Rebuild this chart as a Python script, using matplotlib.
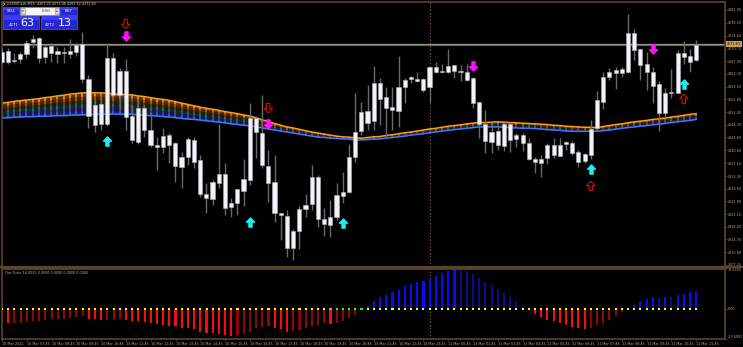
import matplotlib
matplotlib.use("Agg")
import matplotlib.pyplot as plt
import numpy as np
from matplotlib.path import Path
from matplotlib.patches import Rectangle

# ---- data (US500Cash M15, 10-11 Mar 2022) ----
opens = [4266.8, 4270.1, 4267.0, 4267.5, 4269.0, 4272.6, 4273.9, 4268.3, 4271.4, 4270.1,
         4269.3, 4269.0, 4269.8, 4272.0, 4261.7, 4254.1, 4248.6, 4248.5, 4267.8, 4257.1,
         4264.2, 4250.9, 4243.4, 4253.2, 4246.8, 4242.4, 4241.9, 4245.3, 4242.9, 4236.0,
         4239.0, 4243.9, 4238.0, 4228.0, 4226.6, 4231.3, 4233.8, 4224.1, 4225.3, 4229.0,
         4232.1, 4250.3, 4245.8, 4236.2, 4231.6, 4222.4, 4221.6, 4212.3, 4217.3, 4223.5,
         4225.0, 4232.9, 4220.7, 4218.9, 4221.2, 4227.4, 4228.7, 4238.8, 4246.5, 4252.4,
         4249.4, 4260.7, 4256.4, 4253.6, 4252.5, 4259.3, 4261.7, 4261.8, 4261.8, 4259.5,
         4265.2, 4263.7, 4263.8, 4265.9, 4264.2, 4263.9, 4262.0, 4254.9, 4248.6, 4243.4,
         4246.5, 4242.1, 4248.6, 4244.1, 4245.3, 4243.1, 4238.3, 4237.2, 4238.5, 4242.4,
         4239.3, 4242.7, 4243.1, 4240.4, 4237.8, 4239.5, 4247.3, 4255.1, 4262.4, 4263.6,
         4264.6, 4263.9, 4275.2, 4270.5, 4266.2, 4263.9, 4260.3, 4251.7, 4257.6, 4257.7,
         4269.3, 4268.5, 4267.25]
highs = [4270.9, 4270.8, 4269.5, 4269.8, 4273.2, 4274.7, 4274.2, 4271.7, 4272.2, 4271.2,
         4271.2, 4273.5, 4272.4, 4275.6, 4262.9, 4255.6, 4257.4, 4272.2, 4269.3, 4264.9,
         4267.5, 4254.1, 4255.6, 4254.1, 4252.2, 4244.8, 4247.3, 4245.8, 4243.4, 4240.4,
         4244.7, 4244.7, 4239.5, 4231.2, 4232.1, 4248.6, 4237.2, 4226.8, 4229.5, 4238.2,
         4254.6, 4250.9, 4257.1, 4240.9, 4239.5, 4222.5, 4223.3, 4217.7, 4224.5, 4228.0,
         4236.5, 4233.6, 4223.8, 4226.3, 4231.2, 4234.6, 4242.7, 4257.7, 4255.0, 4260.0,
         4265.6, 4262.1, 4259.5, 4259.4, 4268.5, 4262.0, 4262.6, 4263.7, 4262.0, 4265.7,
         4266.8, 4266.2, 4270.6, 4265.9, 4265.9, 4266.2, 4262.4, 4255.1, 4252.7, 4249.1,
         4248.0, 4249.1, 4249.1, 4245.8, 4245.8, 4244.4, 4239.0, 4239.5, 4242.9, 4244.4,
         4244.4, 4243.7, 4243.7, 4240.9, 4240.0, 4249.7, 4258.3, 4263.9, 4264.9, 4265.2,
         4265.4, 4280.8, 4276.3, 4270.5, 4269.8, 4265.4, 4261.2, 4259.0, 4264.7, 4270.3,
         4273.0, 4270.5, 4273.06]
lows = [4266.2, 4266.2, 4266.4, 4266.4, 4267.8, 4270.8, 4266.4, 4266.5, 4266.8, 4266.4,
        4266.5, 4267.8, 4268.5, 4260.5, 4247.4, 4246.3, 4246.8, 4248.0, 4255.6, 4252.7,
        4246.8, 4242.9, 4242.7, 4244.8, 4241.9, 4235.1, 4240.0, 4237.0, 4231.6, 4229.7,
        4236.5, 4235.7, 4227.2, 4222.4, 4224.8, 4229.7, 4221.9, 4221.4, 4221.9, 4224.5,
        4230.7, 4238.5, 4235.7, 4225.8, 4219.9, 4214.5, 4209.6, 4208.7, 4211.8, 4221.2,
        4223.3, 4218.4, 4215.7, 4215.3, 4220.4, 4225.3, 4228.4, 4237.5, 4245.3, 4246.8,
        4246.8, 4248.3, 4244.8, 4246.8, 4247.8, 4254.8, 4260.5, 4261.0, 4258.0, 4255.1,
        4263.6, 4263.6, 4263.6, 4262.0, 4261.3, 4261.3, 4253.2, 4244.5, 4240.1, 4240.0,
        4240.9, 4240.6, 4240.4, 4241.9, 4240.7, 4238.0, 4234.1, 4233.1, 4236.7, 4238.5,
        4239.2, 4240.9, 4239.5, 4236.0, 4237.0, 4238.2, 4246.8, 4252.9, 4261.5, 4258.7,
        4262.4, 4263.6, 4267.3, 4261.5, 4258.5, 4254.8, 4246.5, 4250.2, 4256.1, 4257.6,
        4266.2, 4263.9, 4267.12]
closes = [4269.8, 4266.7, 4267.3, 4269.0, 4272.4, 4273.4, 4268.0, 4271.2, 4269.3, 4269.0,
          4269.8, 4270.1, 4271.7, 4261.8, 4250.9, 4248.3, 4254.4, 4267.8, 4257.1, 4264.2,
          4250.5, 4243.9, 4253.2, 4246.8, 4242.4, 4241.7, 4245.0, 4242.4, 4236.3, 4239.0,
          4244.1, 4237.5, 4228.0, 4226.8, 4231.5, 4233.8, 4224.0, 4225.5, 4229.4, 4232.3,
          4250.3, 4246.3, 4236.5, 4231.3, 4222.5, 4221.9, 4212.3, 4217.2, 4223.5, 4224.8,
          4232.9, 4220.7, 4219.2, 4221.2, 4227.7, 4228.7, 4238.8, 4246.3, 4252.2, 4248.8,
          4260.7, 4255.8, 4253.3, 4252.7, 4259.5, 4261.5, 4262.3, 4261.3, 4258.5, 4265.4,
          4263.7, 4264.1, 4265.6, 4264.2, 4263.9, 4261.5, 4254.6, 4248.6, 4243.7, 4246.3,
          4242.4, 4248.6, 4243.9, 4245.3, 4243.1, 4238.2, 4237.3, 4238.3, 4242.4, 4239.5,
          4242.4, 4243.4, 4240.0, 4237.5, 4239.7, 4247.0, 4255.6, 4262.4, 4263.7, 4264.4,
          4263.6, 4275.3, 4270.3, 4265.9, 4263.7, 4259.8, 4251.7, 4257.7, 4258.0, 4269.3,
          4268.3, 4266.8, 4271.63]

# moving-average ribbon: upper (orange) and lower (blue) edge
ribbon_top = [4254.7, 4254.9, 4255.2, 4255.4, 4255.6, 4255.8, 4256.0, 4256.3, 4256.5, 4256.8,
              4257.0, 4257.3, 4257.5, 4257.7, 4257.7, 4257.7, 4257.7, 4257.6, 4257.4, 4257.3,
              4257.2, 4257.1, 4256.8, 4256.6, 4256.3, 4256.0, 4255.8, 4255.5, 4255.1, 4254.7,
              4254.3, 4253.9, 4253.5, 4253.2, 4252.9, 4252.6, 4252.2, 4251.9, 4251.6, 4251.2,
              4250.9, 4250.4, 4249.8, 4249.3, 4248.7, 4248.2, 4247.7, 4247.4, 4247.0, 4246.6,
              4246.2, 4245.9, 4245.6, 4245.3, 4245.0, 4244.8, 4244.7, 4244.5, 4244.4, 4244.6,
              4244.8, 4244.9, 4245.2, 4245.4, 4245.7, 4246.0, 4246.2, 4246.5, 4246.8, 4247.1,
              4247.3, 4247.6, 4247.9, 4248.1, 4248.3, 4248.6, 4248.8, 4249.0, 4249.0, 4249.1,
              4249.2, 4249.1, 4249.0, 4248.9, 4248.8, 4248.7, 4248.6, 4248.5, 4248.4, 4248.2,
              4248.1, 4247.9, 4247.8, 4247.7, 4247.6, 4247.6, 4247.5, 4247.8, 4248.1, 4248.4,
              4248.6, 4248.9, 4249.2, 4249.4, 4249.6, 4249.9, 4250.1, 4250.3, 4250.6, 4250.8,
              4251.1, 4251.4, 4251.6]
ribbon_bot = [4250.3, 4250.4, 4250.5, 4250.6, 4250.7, 4250.7, 4250.8, 4250.8, 4250.9, 4251.0,
              4251.0, 4251.1, 4251.2, 4251.2, 4251.3, 4251.4, 4251.4, 4251.4, 4251.5, 4251.4,
              4251.4, 4251.4, 4251.2, 4251.1, 4251.0, 4250.9, 4250.7, 4250.6, 4250.4, 4250.2,
              4250.0, 4249.9, 4249.7, 4249.5, 4249.3, 4249.1, 4248.9, 4248.6, 4248.4, 4248.2,
              4248.0, 4247.7, 4247.4, 4247.1, 4246.8, 4246.5, 4246.2, 4245.9, 4245.6, 4245.3,
              4245.0, 4244.7, 4244.6, 4244.4, 4244.3, 4244.2, 4244.1, 4243.9, 4243.9, 4244.0,
              4244.1, 4244.2, 4244.4, 4244.6, 4244.8, 4245.0, 4245.3, 4245.5, 4245.7, 4246.0,
              4246.2, 4246.5, 4246.7, 4246.9, 4247.1, 4247.3, 4247.5, 4247.7, 4247.7, 4247.7,
              4247.7, 4247.6, 4247.5, 4247.4, 4247.3, 4247.3, 4247.2, 4247.1, 4246.9, 4246.8,
              4246.7, 4246.5, 4246.4, 4246.4, 4246.4, 4246.4, 4246.4, 4246.6, 4246.8, 4247.0,
              4247.3, 4247.5, 4247.7, 4247.9, 4248.1, 4248.3, 4248.5, 4248.7, 4249.0, 4249.2,
              4249.4, 4249.6, 4249.9]

# Flat Pulse histogram
pulse = [-11.6, -11.7, -11.5, -11.3, -10.9, -9.8, -9.6, -8.8, -8.4, -8.2,
         -8.0, -7.5, -6.7, -6.1, -7.9, -8.1, -9.3, -8.9, -8.7, -8.3,
         -8.8, -9.6, -10.1, -10.7, -11.5, -12.3, -12.8, -13.6, -14.1, -15.4,
         -15.6, -16.3, -18.1, -19.4, -19.6, -20.0, -20.8, -21.6, -20.8, -20.0,
         -18.1, -15.5, -14.2, -14.0, -15.5, -16.3, -18.1, -17.3, -16.8, -15.5,
         -14.1, -12.8, -11.5, -12.0, -11.5, -10.1, -7.5, -4.8, -0.4, 2.4,
         5.9, 9.3, 11.2, 13.1, 15.2, 17.9, 19.7, 21.1, 21.9, 24.0,
         26.4, 28.5, 30.0, 32.0, 31.8, 30.0, 27.8, 25.0, 21.6, 18.8,
         15.6, 13.1, 9.3, 6.4, 3.2, 0.3, -4.0, -6.7, -8.8, -10.1,
         -11.5, -13.3, -14.7, -15.5, -16.0, -15.5, -13.3, -11.5, -8.8, -6.1,
         -2.9, 0.3, 3.2, 5.9, 7.7, 9.3, 9.1, 9.3, 9.2, 10.7,
         12.0, 13.1, 14.4]
flat_bars = [53, 54, 55, 56, 57, 58]
pulse_min, pulse_max = -23.6907, 32.6392

# signal arrows: (bar, price)
buy_arrows = [(17, 4243.6), (40, 4219.8), (55, 4219.5), (95, 4235.4), (110, 4260.4)]
sell_arrows = [(20, 4274.4), (43, 4248.6), (76, 4265.7), (105, 4270.6)]
up_outline = [(95, 4230.4), (110, 4255.9)]
down_outline = [(20, 4277.9), (43, 4253.2)]

bid, ask = 4271.63, 4272.13
separator_bar = 69

price_ticks = [4282.00, 4278.20, 4274.50, 4270.70, 4267.00, 4263.30, 4259.50, 4255.80,
               4252.00, 4248.30, 4244.60, 4240.80, 4237.10, 4233.30, 4229.60, 4225.90,
               4222.10, 4218.40, 4214.70, 4210.90, 4207.20]
time_labels = ["10 Mar 2022", "10 Mar 07:45", "10 Mar 08:45", "10 Mar 09:45", "10 Mar 10:45",
               "10 Mar 11:45", "10 Mar 12:45", "10 Mar 13:45", "10 Mar 14:45", "10 Mar 15:45",
               "10 Mar 16:45", "10 Mar 17:45", "10 Mar 18:45", "10 Mar 19:45", "10 Mar 20:45",
               "10 Mar 21:45", "10 Mar 22:45", "10 Mar 23:45", "11 Mar 00:45", "11 Mar 01:45",
               "11 Mar 03:45", "11 Mar 04:45", "11 Mar 05:45", "11 Mar 06:45", "11 Mar 07:45",
               "11 Mar 08:45", "11 Mar 09:45", "11 Mar 10:45", "11 Mar 11:45"]

# ---- layout ----
W, H = 743, 347
BG = "black"
FRAME = "#5b4329"
LBL = "#c2a27a"
FS = 2.45


def box(l, t, r, b):
    return [l / W, 1 - b / H, (r - l) / W, (b - t) / H]


fig = plt.figure(figsize=(W / 100, H / 100), dpi=100, facecolor=BG)
ax = fig.add_axes(box(2, 1.5, 725, 266.5), facecolor=BG)
ax2 = fig.add_axes(box(2, 268, 725, 338.5), facecolor=BG)

n = len(closes)
x = np.arange(n)
o, h, l, c = map(np.array, (opens, highs, lows, closes))

# ribbon
top = np.array(ribbon_top)
bot = np.array(ribbon_bot)
layers = ["#ff9a1c", "#b8650e", "#6e4a1c", "#1f7f86", "#5a40b0", "#2f6bff"]
for k, col in enumerate(layers):
    y0 = top + (bot - top) * k / len(layers)
    y1 = top + (bot - top) * (k + 1) / len(layers)
    ax.fill_between(x, y0, y1, color=col, alpha=0.35, lw=0, zorder=1)
    ax.vlines(x, y1, y0, color=col, lw=1.1, zorder=1.5)
ax.plot(x, top, color="#ff9a1c", lw=1.1, zorder=2)
ax.plot(x, bot, color="#3a78ff", lw=1.1, zorder=2)

# bid / ask lines and separator
ax.axhline(ask, color="#9c9c9c", lw=0.9, zorder=2.5)
ax.axhline(bid, color="#7a5e3c", lw=0.9, zorder=2.5)
for a in (ax, ax2):
    a.axvline(separator_bar, color="#8a6a40", lw=0.8, ls=(0, (1, 2)), zorder=0.5)

# candles
ax.vlines(x, l, h, color="#6a6a6a", lw=1.0, zorder=3)
body_lo = np.minimum(o, c)
body_h = np.maximum(np.abs(c - o), 0.35)
ax.bar(x, body_h, bottom=body_lo, width=0.66, color="#f2f2f6",
       edgecolor="#b0b0b8", linewidth=0.4, zorder=4)

# arrows
up_path = Path([(0, 1), (0.9, 0.05), (0.35, 0.05), (0.35, -1), (-0.35, -1),
                (-0.35, 0.05), (-0.9, 0.05), (0, 1)],
               [Path.MOVETO] + [Path.LINETO] * 6 + [Path.CLOSEPOLY])
down_path = Path(up_path.vertices * [1, -1], up_path.codes)


def arrows(pts, marker, face, edge):
    bx, py = zip(*pts)
    ax.scatter(bx, py, marker=marker, s=46, facecolor=face, edgecolor=edge,
               linewidth=0.8, zorder=6)


arrows(buy_arrows, up_path, "#19f0f0", "#19f0f0")
arrows(sell_arrows, down_path, "#ff10ff", "#ff10ff")
arrows(up_outline, up_path, "none", "#cc1010")
arrows(down_outline, down_path, "none", "#cc1010")

# main axis styling
ax.set_xlim(0.05, 116.65)
ax.set_ylim(4206.76, 4284.49)
ax.set_xticks([])
ax.yaxis.tick_right()
ax.set_yticks(price_ticks)
ax.set_yticklabels([f"{p:.2f}" for p in price_ticks])
ax.tick_params(axis="y", labelsize=FS, labelcolor=LBL, color=FRAME, length=1.5, width=0.6, pad=0.6)
for s in ax.spines.values():
    s.set_color(FRAME)
    s.set_linewidth(1.2)
ax.spines["bottom"].set_linewidth(2)

# ---- Flat Pulse panel ----
pv = np.array(pulse)
prev = np.r_[pv[0], pv[:-1]]
grow = np.abs(pv) > np.abs(prev)
cols = np.where(pv >= 0, np.where(grow, "#0a0aff", "#0b0b90"),
                np.where(grow, "#ff0a0a", "#8e0606"))
ax2.bar(x, pv, width=0.34, color=cols, zorder=2)
dot_cols = ["#22ff22" if i in flat_bars else "#ffff10" for i in range(n)]
ax2.scatter(x, np.zeros(n), marker="s", s=2.2, c=dot_cols, linewidths=0, zorder=3)
ax2.set_xlim(0.05, 116.65)
ax2.set_ylim(pulse_min, pulse_max)
ax2.yaxis.tick_right()
ax2.set_yticks([pulse_max, 0, pulse_min])
ax2.set_yticklabels([f"{pulse_max:.4f}", "0.00", f"{pulse_min:.4f}"])
ticklabels = ax2.get_yticklabels()
ticklabels[0].set_va("top")
ticklabels[2].set_va("bottom")
ax2.tick_params(axis="y", labelsize=FS, labelcolor=LBL, color=FRAME, length=1.5, width=0.6, pad=0.6)
ax2.set_xticks(np.arange(0, n, 4))
ax2.set_xticklabels(time_labels, ha="left")
ax2.tick_params(axis="x", labelsize=FS, labelcolor=LBL, color=FRAME, length=1.5, width=0.6, pad=1.2)
for s in ax2.spines.values():
    s.set_color(FRAME)
    s.set_linewidth(1.2)
ax2.spines["top"].set_linewidth(2)
ax2.text(0.004, 0.96, "Flat Pulse 14.0025 0.0000 0.0000 0.0000 0.0000", transform=ax2.transAxes,
         fontsize=FS, color="#b8b0a0", va="top", ha="left")

# ---- overlay: header and trade panel ----
ov = fig.add_axes([0, 0, 1, 1], zorder=10)
ov.set_xlim(0, W)
ov.set_ylim(H, 0)
ov.axis("off")
ov.patch.set_alpha(0)
ov.plot([0, W], [267, 267], color=FRAME, lw=1.6)
ov.text(7, 4.2, "US500Cash,M15  4267.25 4273.06 4267.12 4271.63", fontsize=FS,
        color="#cfcfcf", va="center", ha="left")
ov.plot([3.2, 5.2, 3.2], [3, 4.2, 5.4], color="#cfcfcf", lw=0.5)

blue = "#2626d4"
for (bx0, by0, bw, bh) in [(2.7, 7.3, 16.6, 7.7), (60, 7.3, 16.7, 7.7),
                           (2.7, 15.7, 36.6, 13.6), (40.7, 15.7, 36, 13.6)]:
    ov.add_patch(Rectangle((bx0, by0), bw, bh, facecolor=blue, edgecolor="#5050ff", lw=0.5))
    ov.add_patch(Rectangle((bx0, by0), bw, bh * 0.35, facecolor="#3c3cf0", lw=0))
ov.add_patch(Rectangle((20, 7.3), 39.3, 7.7, facecolor="#f4f4f4", edgecolor="#9090c0", lw=0.5))
ov.add_patch(Rectangle((20.6, 8.2), 4.2, 5.9, facecolor="#d8d8d8", edgecolor="#888888", lw=0.4))
ov.add_patch(Rectangle((54.5, 8.2), 4.2, 5.9, facecolor="#d8d8d8", edgecolor="#888888", lw=0.4))
ov.text(22.7, 11.2, "▾", fontsize=2.5, color="#222222", ha="center", va="center")
ov.text(56.6, 11.2, "▴", fontsize=2.5, color="#222222", ha="center", va="center")
ov.text(50.5, 11.2, "0.10", fontsize=2.8, color="#222222", ha="right", va="center")
ov.text(11, 11.2, "SELL", fontsize=2.8, color="white", ha="center", va="center")
ov.text(68.3, 11.2, "BUY", fontsize=2.8, color="white", ha="center", va="center")
ov.text(8.3, 24.5, "4271", fontsize=2.8, color="white", ha="left", va="center")
ov.text(20.5, 22.6, "63", fontsize=8, color="white", ha="left", va="center")
ov.text(45, 24.5, "4272", fontsize=2.8, color="white", ha="left", va="center")
ov.text(58, 22.6, "13", fontsize=8, color="white", ha="left", va="center")

# current price label on the axis
ov.text(727.2, 43.9, f"{bid:.2f}", fontsize=FS, color="#1a1208", ha="left", va="center",
        bbox=dict(boxstyle="square,pad=0.3", facecolor="#c99a58", edgecolor="none"))

fig.savefig("out.png", dpi=100, facecolor=BG)
